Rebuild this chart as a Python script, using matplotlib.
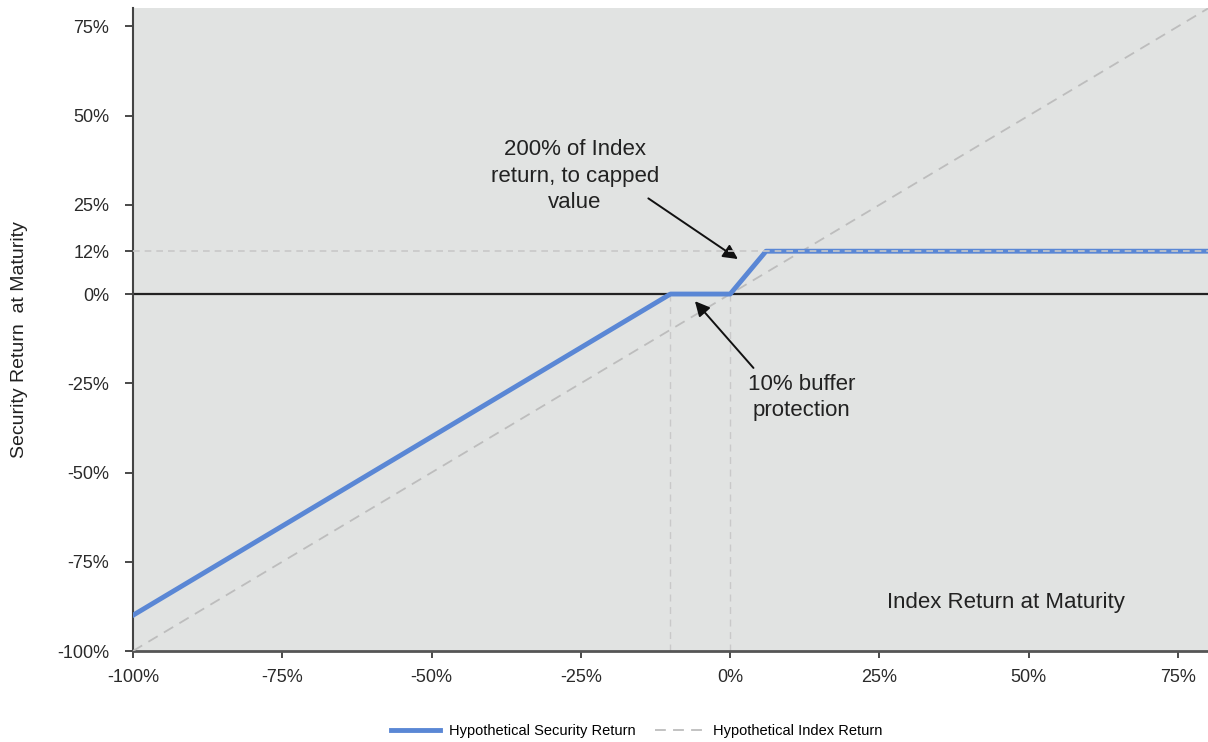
import matplotlib.pyplot as plt

plt.rcParams['font.family'] = ['Liberation Sans', 'DejaVu Sans']

# payoff breakpoints (index return -> security return, %)
index_x = [-100, -10, 0, 6, 80]
security_y = [-90, 0, 0, 12, 12]
index_line_x = [-100, 80]
index_line_y = [-100, 80]
cap_level = 12
buffer_level = -10

xticks = [-100, -75, -50, -25, 0, 25, 50, 75]
yticks = [-100, -75, -50, -25, 0, 12, 25, 50, 75]

blue = "#5A87D5"
gray = "#BDBDBD"

fig = plt.figure(figsize=(12.08, 7.42), dpi=100)
ax = fig.add_axes([0.110, 0.1226, 0.890, 0.866])
ax.set_facecolor("#E1E3E2")

# guide lines
ax.plot([buffer_level, buffer_level], [-100, 0], color="#C9C9C9", lw=1, ls=(0, (5, 4)), zorder=1)
ax.plot([0, 0], [-100, 0], color="#C9C9C9", lw=1, ls=(0, (5, 4)), zorder=1)
ax.axhline(0, color="#222222", lw=1.6, zorder=2)

ax.plot(index_line_x, index_line_y, color=gray, lw=1.3, ls=(0, (6, 4)),
        label="Hypothetical Index Return", zorder=3)
ax.plot(index_x, security_y, color=blue, lw=3.5, solid_joinstyle="round",
        label="Hypothetical Security Return", zorder=4)
ax.axhline(cap_level, color="#C8C8C8", lw=1.2, ls=(0, (4, 3)), zorder=5)

ax.set_xlim(-100, 80)
ax.set_ylim(-100, 80)
ax.set_xticks(xticks)
ax.set_xticklabels([f"{t}%" for t in xticks])
ax.set_yticks(yticks)
ax.set_yticklabels([f"{t}%" for t in yticks])
ax.tick_params(labelsize=13, colors="#2A2A2A", length=6, width=1.2)
ax.tick_params(axis="x", pad=8, length=5)
ax.tick_params(axis="y", pad=11)
for s in ["top", "right"]:
    ax.spines[s].set_visible(False)
ax.spines["left"].set_color("#444444")
ax.spines["left"].set_linewidth(1.5)
ax.spines["bottom"].set_color("#555555")
ax.spines["bottom"].set_linewidth(2)

ax.set_ylabel("Security Return  at Maturity", fontsize=14, color="#222222")
ax.yaxis.set_label_coords(-0.098, 0.484)
ax.text(46.2, -86.3, "Index Return at Maturity", fontsize=16, color="#222222",
        ha="center", va="center")

ax.text(-26, 33, "200% of Index\nreturn, to capped\nvalue", fontsize=16, color="#222222",
        ha="center", va="center", linespacing=1.35)
ax.annotate("", xy=(1.3, 9.8), xytext=(-13.7, 26.8),
            arrowprops=dict(arrowstyle="-|>", color="#111111", lw=1.4,
                            mutation_scale=22, shrinkA=0, shrinkB=0))
ax.text(12, -29, "10% buffer\nprotection", fontsize=16, color="#222222",
        ha="center", va="center", linespacing=1.35)
ax.annotate("", xy=(-5.9, -2), xytext=(3.9, -20.7),
            arrowprops=dict(arrowstyle="-|>", color="#111111", lw=1.4,
                            mutation_scale=22, shrinkA=0, shrinkB=0))

h, l = ax.get_legend_handles_labels()
fig.legend([h[1], h[0]], [l[1], l[0]], loc="center", bbox_to_anchor=(0.527, 0.015),
           ncol=2, frameon=False, fontsize=10.5, handlelength=3.4, handletextpad=0.6,
           columnspacing=1.3)

fig.savefig("out.png", dpi=100)
